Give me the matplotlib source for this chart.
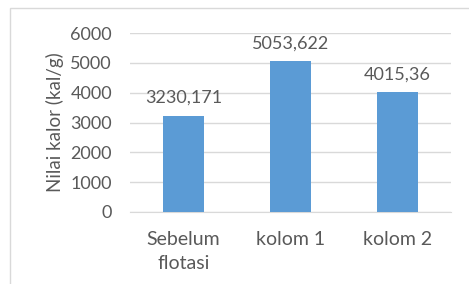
import matplotlib
matplotlib.use("Agg")
import matplotlib.pyplot as plt
from matplotlib.patches import Rectangle

categories = ["Sebelum\nflotasi", "kolom 1", "kolom 2"]
values = [3230.171, 5053.622, 4015.36]
y_ticks = [0, 1000, 2000, 3000, 4000, 5000, 6000]

text_color = "#595959"
bar_color = "#5B9BD5"
grid_color = "#D9D9D9"

plt.rcParams["font.family"] = ["Lato", "DejaVu Sans"]
plt.rcParams["font.size"] = 13

fig = plt.figure(figsize=(4.69, 2.84), dpi=100)
ax = fig.add_axes([130 / 469, 1 - 212 / 284, 321 / 469, 179 / 284])

# outer chart border (only left and top visible in the crop)
fig.patches.append(
    Rectangle((10 / 469, -0.5), 2, 0.5 + (1 - 8 / 284), transform=fig.transFigure,
              fill=False, edgecolor=grid_color, linewidth=1)
)

x = range(len(categories))
bars = ax.bar(x, values, width=0.39, color=bar_color, zorder=3)
ax.bar_label(bars, labels=[str(v).replace(".", ",") for v in values],
             padding=7, color=text_color, fontsize=13)

ax.set_xlim(-0.5, len(categories) - 0.5)
ax.set_ylim(0, 6000)
ax.set_yticks(y_ticks)
ax.set_xticks(list(x))
ax.set_xticklabels(categories, linespacing=1.5, fontsize=14)
ax.yaxis.grid(True, color=grid_color, linewidth=1, zorder=0)
ax.set_axisbelow(True)
for side in ["top", "right", "left"]:
    ax.spines[side].set_visible(False)
ax.spines["bottom"].set_color(grid_color)
ax.tick_params(axis="both", length=0, colors=text_color)
ax.tick_params(axis="y", pad=13)
ax.tick_params(axis="x", pad=14)
ax.set_ylabel("Nilai kalor (kal/g)", color=text_color, fontsize=13.5)
ax.yaxis.set_label_coords(-0.206, 0.5)

fig.savefig("out.png", dpi=100)
